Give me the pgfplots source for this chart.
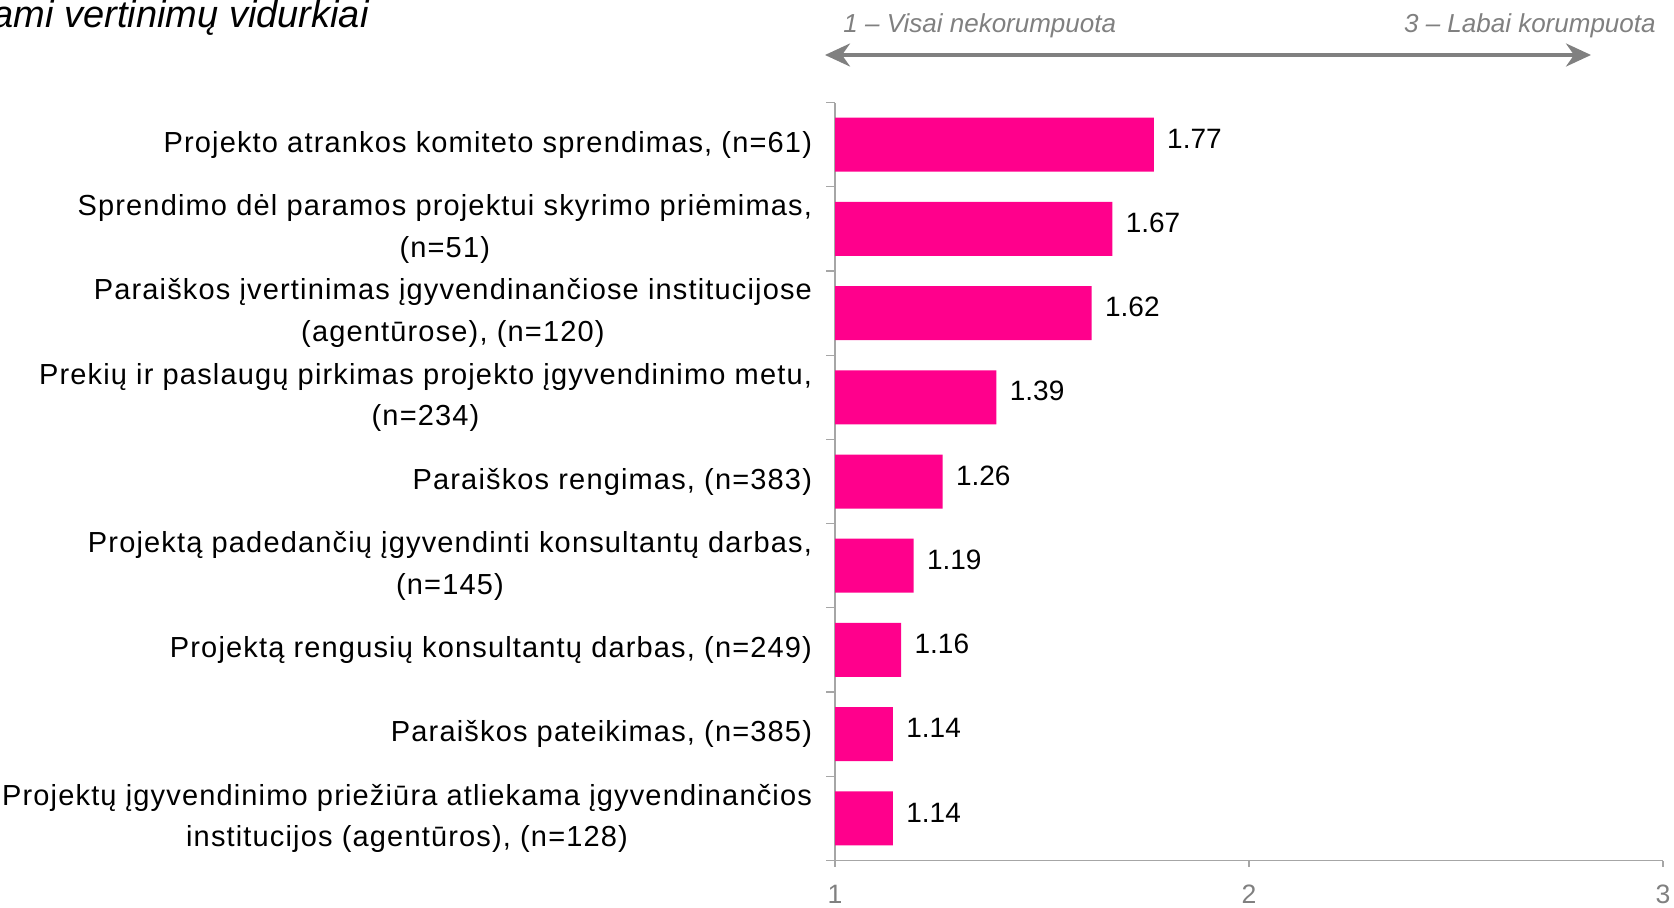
\documentclass[border=0pt]{standalone}
\usepackage{fontspec}
\setmainfont{Liberation Sans}
\newfontfamily\lblfont[LetterSpace=4]{Liberation Sans}
\usepackage{graphicx}
\usepackage{pgfplots}
\pgfplotsset{compat=1.18}
\usetikzlibrary{arrows.meta}
\definecolor{barmag}{RGB}{255,0,140}
\definecolor{axgray}{RGB}{166,166,166}
\definecolor{txtgray}{RGB}{128,128,128}
\begin{document}
\begin{tikzpicture}
\path[use as bounding box, clip] (0,0) rectangle (837pt,453.5pt);
\begin{axis}[
  at={(417.5pt,23.25pt)}, anchor=south west,
  width=414pt, height=379pt, scale only axis,
  xmin=1, xmax=3, ymin=-0.5, ymax=8.5,
  xbar, bar width=27pt,
  axis x line*=bottom, axis y line*=left,
  axis line style={draw=axgray, line width=0.6pt},
  tick style={draw=axgray, line width=0.6pt},
  tick align=outside,
  major tick length=3pt, minor tick length=4.5pt,
  xtick={1,2,3}, xticklabels={1,2,3},
  x tick label style={font=\fontsize{13.3}{16}\selectfont, text=txtgray, inner sep=0pt, anchor=north, yshift=-9pt},
  ytick={0,...,8},
  major y tick style={draw=none},
  minor ytick={-0.5,0.5,...,8.5},
  yticklabels={
    {Projektų įgyvendinimo priežiūra atliekama įgyvendinančios\\institucijos (agentūros), (n=128)},
    {Paraiškos pateikimas, (n=385)},
    {Projektą rengusių konsultantų darbas, (n=249)},
    {Projektą padedančių įgyvendinti konsultantų darbas,\\(n=145)},
    {Paraiškos rengimas, (n=383)},
    {Prekių ir paslaugų pirkimas projekto įgyvendinimo metu,\\(n=234)},
    {Paraiškos įvertinimas įgyvendinančiose institucijose\\(agentūrose), (n=120)},
    {Sprendimo dėl paramos projektui skyrimo priėmimas,\\(n=51)},
    {Projekto atrankos komiteto sprendimas, (n=61)}
  },
  y tick label style={align=center, font=\lblfont\fontsize{14.5}{20.8}\selectfont, inner sep=0pt, anchor=east, xshift=-8.3pt},
  point meta=x,
  nodes near coords={\pgfmathprintnumber[fixed,fixed zerofill,precision=2,assume math mode=true]{\pgfplotspointmeta}},
  every node near coord/.append style={font=\fontsize{14}{16}\selectfont, text=black, anchor=west, inner sep=0pt, xshift=6.5pt, yshift=3pt},
]
\addplot[fill=barmag, draw=none] coordinates {
  (1.14,0) (1.14,1) (1.16,2) (1.19,3) (1.26,4) (1.39,5) (1.62,6) (1.67,7) (1.77,8)
};
\end{axis}
\draw[draw=txtgray, line width=1.75pt, {Stealth[length=12.5pt,width=11.5pt,inset=4pt]}-{Stealth[length=12.5pt,width=11.5pt,inset=4pt]}] (412.5pt,426pt) -- (795.5pt,426pt);
\node[anchor=base west, inner sep=0pt, text=txtgray, font=\itshape\fontsize{13}{15}\selectfont] at (421.5pt,437pt) {1 – Visai nekorumpuota};
\node[anchor=base east, inner sep=0pt, text=txtgray, font=\itshape\fontsize{13}{15}\selectfont] at (828pt,437pt) {3 – Labai korumpuota};
\node[anchor=base east, inner sep=0pt, font=\itshape\fontsize{19}{22}\selectfont] at (184.5pt,439.5pt) {ami vertinimų vidurkiai};
\end{tikzpicture}
\end{document}
